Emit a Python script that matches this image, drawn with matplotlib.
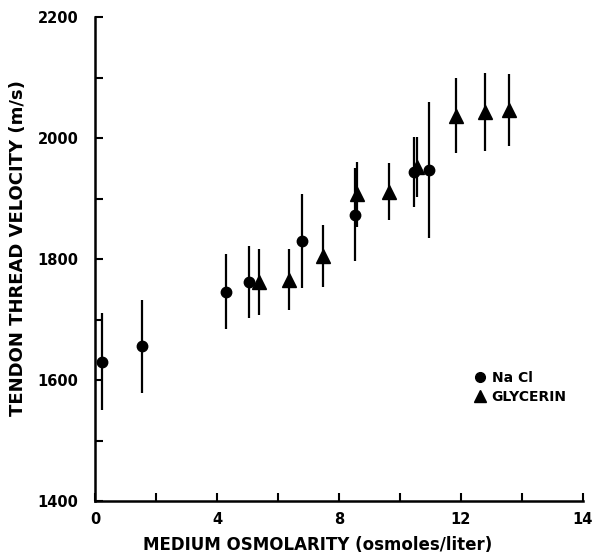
import matplotlib.pyplot as plt
from matplotlib.lines import Line2D

# NaCl points (circles)
nacl_x = [0.24, 1.53, 4.30, 5.06, 6.80, 8.52, 10.45, 10.96]
nacl_y = [1630, 1656, 1746, 1762, 1830, 1873, 1944, 1947]
nacl_err = [80, 77, 62, 60, 78, 77, 58, 112]

# glycerin points (triangles)
gly_x = [5.39, 6.36, 7.49, 8.58, 9.65, 10.55, 11.84, 12.80, 13.56]
gly_y = [1762, 1766, 1805, 1907, 1911, 1952, 2037, 2043, 2046]
gly_err = [55, 50, 52, 54, 47, 50, 62, 65, 60]

x_ticks = [0, 2, 4, 6, 8, 10, 12, 14, 16]
x_ticklabels = ["0", "", "4", "", "8", "", "12", "", "14"]
y_ticks = [1400, 1600, 1800, 2000, 2200]
y_ticklabels = ["1400", "1600", "1800", "2000", "2200"]

fig = plt.figure(figsize=(5.94, 5.57), dpi=100)
ax = fig.add_axes([95 / 594, 1 - 501 / 557, 488 / 594, 484 / 557])

ax.errorbar(nacl_x, nacl_y, yerr=nacl_err, fmt='o', color='black',
            ms=7.5, elinewidth=1.6, capsize=0)
ax.errorbar(gly_x, gly_y, yerr=gly_err, fmt='^', color='black',
            ms=10, elinewidth=1.6, capsize=0)

ax.set_xlim(0, 16)
ax.set_ylim(1400, 2200)

for s in ['top', 'right']:
    ax.spines[s].set_visible(False)
for s in ['left', 'bottom']:
    ax.spines[s].set_linewidth(1.8)

ax.set_xticks(x_ticks)
ax.set_xticklabels(x_ticklabels)
ax.set_yticks(y_ticks)
ax.set_yticklabels(y_ticklabels)
ax.set_yticks([1500, 1700, 1900, 2100], minor=True)
ax.tick_params(axis='both', which='both', direction='in', length=6, width=1.5)
ax.tick_params(axis='y', which='major', pad=12)
ax.tick_params(axis='x', which='major', pad=8)
for lab in ax.get_xticklabels() + ax.get_yticklabels():
    lab.set_fontweight('bold')
    lab.set_fontsize(10.5)

ax.set_xlabel("MEDIUM OSMOLARITY (osmoles/liter)", fontsize=12,
              fontweight='bold', va='center')
ax.xaxis.set_label_coords(0.457, -0.091)
ax.set_ylabel("TENDON THREAD VELOCITY (m/s)", fontsize=13,
              fontweight='bold', va='center')
ax.yaxis.set_label_coords(-0.158, 0.523)

# legend only shows the markers
handles = [Line2D([], [], marker='o', ls='none', color='black', ms=7),
           Line2D([], [], marker='^', ls='none', color='black', ms=9)]
ax.legend(handles, ['Na Cl', 'GLYCERIN'], loc='upper left',
          bbox_to_anchor=(0.75, 0.295), frameon=False,
          handletextpad=0.3, handlelength=1.0, labelspacing=0.35,
          prop={'weight': 'bold', 'size': 10})

fig.savefig("out.png", dpi=100)
